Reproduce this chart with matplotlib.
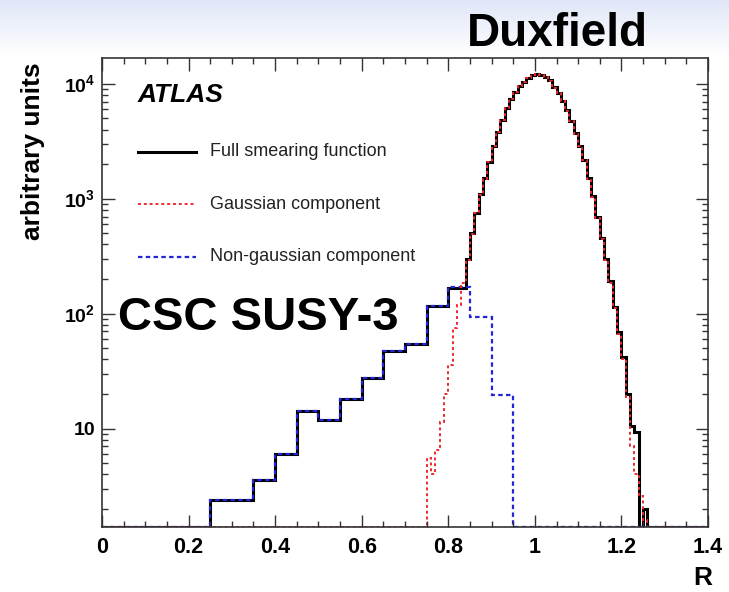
import numpy as np
import matplotlib
matplotlib.use("Agg")
import matplotlib.pyplot as plt

plt.rcParams['font.family'] = ['Liberation Sans', 'DejaVu Sans']
plt.rcParams['mathtext.fontset'] = 'custom'
plt.rcParams['mathtext.bf'] = 'Liberation Sans:bold'
plt.rcParams['mathtext.rm'] = 'Liberation Sans:bold'

# non-gaussian component, 0.05 bins from 0 to 1.4
nongauss_edges = np.round(np.arange(0.0, 1.4001, 0.05), 3)
nongauss_vals = [0, 0, 0, 0, 0, 2.4, 2.4, 3.6, 6.0, 14.3, 11.9, 18.1, 27.6, 47, 54,
                 117, 170, 93, 19.4, 0, 0, 0, 0, 0, 0, 0, 0, 0]

# full smearing function: coarse bins below 0.84, 0.01 bins above
full_coarse_edges = [0.0, 0.05, 0.10, 0.15, 0.20, 0.25, 0.30, 0.35, 0.40, 0.45, 0.50,
                     0.55, 0.60, 0.65, 0.70, 0.75, 0.80, 0.84]
full_coarse_vals = [0, 0, 0, 0, 0, 2.4, 2.4, 3.6, 6.0, 14.3, 11.9, 18.1, 27.6, 47, 54,
                    117, 167]
full_fine_vals = [302, 501, 759, 1096, 1514, 2089, 2884, 3802, 4898, 6166,
                  7413, 8511, 9550, 10470, 11350, 11890, 12160, 12020, 11480, 10720,
                  9330, 8320, 7080, 5890, 4790, 3720, 2880, 2190, 1510, 1050,
                  690, 457, 302, 191, 115, 69, 42, 20, 10.5, 9.3,
                  0, 2.0, 0, 0, 0, 0, 0, 0, 0, 0,
                  0, 0, 0, 0, 0, 0]

# gaussian component: 0 below 0.75, 0.01 bins from 0.75
gauss_low_edges = [0.0, 0.25, 0.75]
gauss_low_vals = [0, 0]
gauss_fine_vals = [5.5, 4.0, 6.5, 11.5, 20, 36, 75, 120, 185,
                   295, 490, 745, 1080, 1500, 2070, 2860, 3780, 4870, 6130,
                   7380, 8480, 9520, 10440, 11320, 11860, 12130, 12000, 11450, 10690,
                   9300, 8290, 7050, 5860, 4760, 3700, 2860, 2170, 1490, 1040,
                   680, 450, 296, 186, 112, 66, 40, 19, 7.0, 4.0,
                   2.6, 1.6, 0, 0, 0, 0, 0, 0, 0, 0,
                   0, 0, 0, 0, 0, 0]

full_edges = np.concatenate([full_coarse_edges, np.round(0.84 + 0.01 * np.arange(1, len(full_fine_vals) + 1), 3)])
full_vals = np.array(full_coarse_vals + full_fine_vals, dtype=float)
gauss_edges = np.concatenate([gauss_low_edges, np.round(0.75 + 0.01 * np.arange(1, len(gauss_fine_vals) + 1), 3)])
gauss_vals = np.array(gauss_low_vals + gauss_fine_vals, dtype=float)

ylo, yhi = 1.39, 16800

fig = plt.figure(figsize=(7.29, 5.92), dpi=100)

# light-blue slide header band
band = fig.add_axes([0, 0.905, 1, 0.095])
grad = np.linspace(1, 0, 64).reshape(-1, 1)
band.imshow(grad, aspect='auto', cmap=matplotlib.colors.LinearSegmentedColormap.from_list(
    'b', ['#ffffff', '#dfe6f7']), extent=[0, 1, 0, 1])
band.axis('off')

ax = fig.add_axes([0.1399, 0.1098, 0.8313, 0.7922])
ax.stairs(np.maximum(full_vals, ylo), full_edges, color='black', lw=2.2, baseline=None)
ax.stairs(np.maximum(np.array(nongauss_vals, float), ylo), nongauss_edges, color='#2424d8',
          lw=1.6, ls=(0, (2, 1.5)), baseline=None)
ax.stairs(np.maximum(gauss_vals, ylo), gauss_edges, color='#ec2a30', lw=1.4,
          ls=(0, (1.5, 1.5)), baseline=None)

ax.set_yscale('log')
ax.set_xlim(0, 1.4)
ax.set_ylim(ylo, yhi)
ax.set_xticks([0, 0.2, 0.4, 0.6, 0.8, 1.0, 1.2, 1.4])
ax.set_xticklabels(['0', '0.2', '0.4', '0.6', '0.8', '1', '1.2', '1.4'])
ax.set_xticks(np.arange(0, 1.401, 0.05), minor=True)
ax.set_yticks([10, 100, 1000, 10000])
ax.set_yticklabels(['10', r'$\mathbf{10}^{\mathbf{2}}$', r'$\mathbf{10}^{\mathbf{3}}$',
                    r'$\mathbf{10}^{\mathbf{4}}$'])
ax.yaxis.set_minor_locator(matplotlib.ticker.LogLocator(base=10, subs=np.arange(2, 10)))
ax.yaxis.set_minor_formatter(matplotlib.ticker.NullFormatter())
ax.tick_params(which='both', direction='in', top=True, right=True, colors='#333333')
ax.tick_params(which='major', length=9, width=1)
ax.tick_params(which='minor', length=4.5, width=1)
ax.tick_params(axis='x', which='major', pad=7, labelsize=15.5, labelcolor='black')
ax.tick_params(axis='y', which='major', pad=5, labelsize=14, labelcolor='black')
for lab in ax.get_xticklabels() + ax.get_yticklabels():
    lab.set_fontweight('bold')
for s in ax.spines.values():
    s.set_color('#333333')
    s.set_linewidth(1.2)

# ATLAS label and legend
ax.text(0.058, 0.921, 'ATLAS', transform=ax.transAxes, fontsize=19, fontweight='bold',
        fontstyle='italic', va='center', ha='left')
legend_items = [('Full smearing function', 'black', '-', 2.2),
                ('Gaussian component', '#ec2a30', (0, (1.5, 1.5)), 1.4),
                ('Non-gaussian component', '#2424d8', (0, (2, 1.5)), 1.6)]
for i, (lab, col, ls, lw) in enumerate(legend_items):
    yy = 0.80 - 0.112 * i
    ax.plot([0.059, 0.155], [yy, yy], transform=ax.transAxes, color=col, ls=ls, lw=lw)
    ax.text(0.178, yy, lab, transform=ax.transAxes, fontsize=13, color='#222222',
            va='center', ha='left')

fig.text(0.045, 0.895, 'arbitrary units', rotation=90, ha='center', va='top',
         fontsize=19, fontweight='bold')
fig.text(0.977, 0.024, 'R', ha='right', va='center', fontsize=19, fontweight='bold')
fig.text(0.162, 0.4426, 'CSC SUSY-3', ha='left', va='baseline', fontsize=34, fontweight='bold')
fig.text(0.6406, 0.9223, 'Duxfield', ha='left', va='baseline', fontsize=33, fontweight='bold')

fig.savefig('out.png', dpi=100)
